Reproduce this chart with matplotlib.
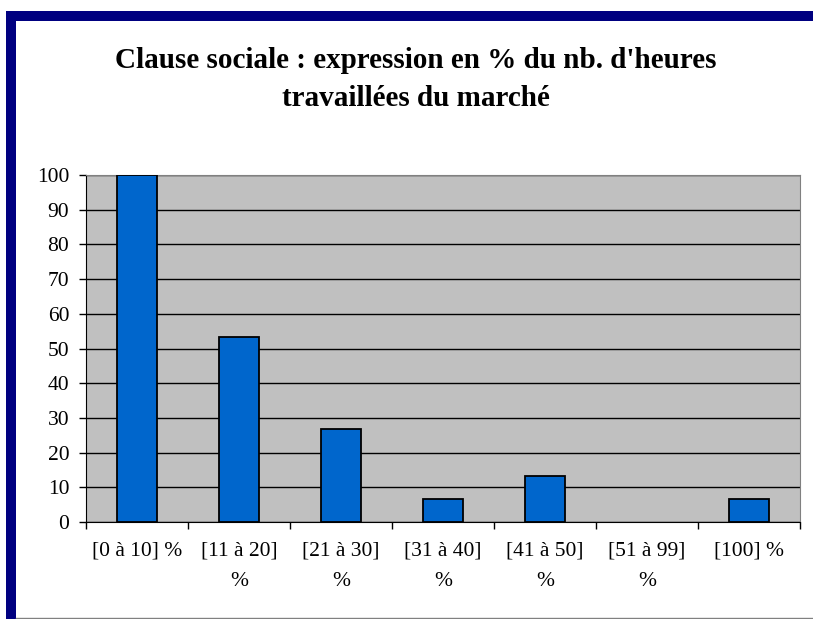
"""
Bar chart: clause sociale, share of hours worked, old Excel look.
"""
import matplotlib
matplotlib.use("Agg")
import matplotlib.pyplot as plt
from matplotlib.patches import Rectangle
from matplotlib.lines import Line2D

categories = ["[0 à 10] %", "[11 à 20]\n%", "[21 à 30]\n%", "[31 à 40]\n%",
              "[41 à 50]\n%", "[51 à 99]\n%", "[100] %"]
values = [100, 53.3, 26.7, 6.7, 13.3, 0, 6.7]
y_ticks = list(range(0, 101, 10))
title = "Clause sociale : expression en % du nb. d'heures\ntravaillées du marché"

W, H = 813, 619
plt.rcParams["font.family"] = ["Liberation Serif", "DejaVu Serif"]

fig = plt.figure(figsize=(W / 100, H / 100), dpi=100)
fig.patch.set_facecolor("white")


def px_rect(x0, y0, x1, y1, **kw):
    # pixel coords from top-left
    return Rectangle((x0 / W, 1 - y1 / H), (x1 - x0) / W, (y1 - y0) / H,
                     transform=fig.transFigure, **kw)


# navy frame (left + top), thin grey line at bottom
fig.add_artist(px_rect(6, 11, 813, 21, facecolor="#000080", edgecolor="none"))
fig.add_artist(px_rect(6, 11, 16, 619, facecolor="#000080", edgecolor="none"))
fig.add_artist(Line2D([16 / W, 1], [1 - 617.5 / H] * 2, transform=fig.transFigure,
                      color="#808080", linewidth=1))

# plot area in pixels
left, top, right, bottom = 86, 175, 800, 522
ax = fig.add_axes([left / W, 1 - bottom / H, (right - left) / W, (bottom - top) / H])
ax.set_facecolor("#C0C0C0")

x = list(range(len(categories)))
# zero-height bars get no outline (Excel draws nothing there)
edge_widths = [1.3 if v > 0 else 0 for v in values]
ax.bar(x, values, width=0.4, color="#0066CC", edgecolor="black",
       linewidth=edge_widths, zorder=3)

ax.set_xlim(-0.5, len(categories) - 0.5)
ax.set_ylim(0, 100)
ax.set_yticks(y_ticks)
ax.yaxis.grid(True, color="black", linewidth=1, zorder=1)
ax.set_axisbelow(True)

ax.set_xticks([i - 0.5 for i in range(len(categories) + 1)])
ax.set_xticklabels([])
ax.set_xticks(x, minor=True)
ax.set_xticklabels(categories, minor=True, fontsize=15.5, linespacing=1.8, va="top")
ax.tick_params(axis="x", which="minor", length=0, pad=14)
ax.tick_params(axis="x", which="major", length=5, width=1, color="black")
ax.tick_params(axis="y", length=5, width=1, pad=7, labelsize=15.5, color="black")

for side in ["top", "right"]:
    ax.spines[side].set_color("#808080")
ax.spines["left"].set_color("black")
ax.spines["bottom"].set_color("black")

fig.text(416 / W, 1 - 47 / H, title, ha="center", va="top", fontsize=21,
         fontweight="bold", linespacing=1.5)

fig.savefig("out.png", dpi=100)
